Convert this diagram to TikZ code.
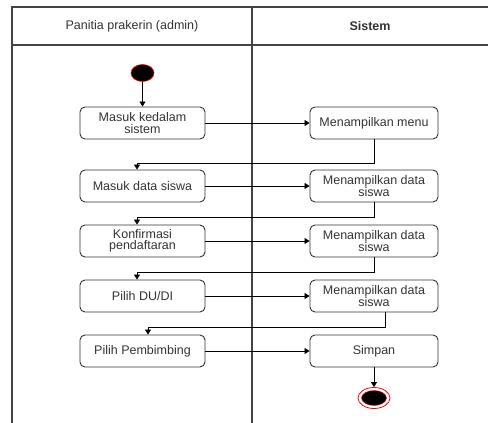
\documentclass[tikz,border=0pt]{standalone}
\usepackage{fontspec}
\setmainfont{Liberation Sans}
\usetikzlibrary{arrows.meta,positioning,shapes.geometric}
\definecolor{ink}{HTML}{333333}
\definecolor{rule}{HTML}{444444}

\begin{document}
\begin{tikzpicture}[
  x=1pt, y=-1pt, font=\fontsize{12.5}{11.5}\selectfont, text=ink,
  lane/.style ={draw=rule,line width=1.2pt},
  head/.style ={inner sep=1pt},
  act/.style  ={draw=ink,rounded corners=5pt,line width=0.9pt,align=center,
                inner sep=1pt,minimum width=125pt,minimum height=32pt},
  sys/.style  ={act,minimum width=128pt},
  flow/.style ={draw=black,line width=0.8pt,-{Triangle[length=5pt,width=6pt]}},
  init/.style ={ellipse,draw=red,fill=black,inner sep=0,line width=0.6pt,
                minimum width=23pt,minimum height=17pt},
  final/.style={ellipse,draw=red,fill=white,inner sep=0,line width=0.8pt,
                minimum width=32pt,minimum height=21pt},
  dot/.style  ={ellipse,draw=red,fill=black,inner sep=0,line width=0.4pt,
                minimum width=25pt,minimum height=15pt},
]
\useasboundingbox (0,0) rectangle (488,423);

% ------------------------------------------------------------ swimlanes
\draw[lane] (12,423) -- (12,7) -- (488,7);
\draw[lane] (12,45) -- (488,45);
\draw[lane] (252,7) -- (252,423);
\node[head] (hadmin) at (132,26) {Panitia prakerin (admin)};
\node[head,font=\fontsize{12.5}{11.5}\selectfont\bfseries] (hsys) at (370,26) {Sistem};

% ------------------------------------------------------------ activities
\node[init]  (start) at (142.5,73) {};
\node[act]   (a1) at (142.5,123) {Masuk kedalam\\sistem};
\node[sys]   (s1) at (374,123)   {Menampilkan menu};
\node[act]   (a2) at (142.5,186) {Masuk data siswa};
\node[sys]   (s2) at (374,186)   {Menampilkan data\\siswa};
\node[act]   (a3) at (142.5,241) {Konfirmasi\\pendaftaran};
\node[sys]   (s3) at (374,241)   {Menampilkan data\\siswa};
\node[act]   (a4) at (142.5,296) {Pilih DU/DI};
\node[sys]   (s4) at (374,296)   {Menampilkan data\\siswa};
\node[act]   (a5) at (142.5,351) {Pilih Pembimbing};
\node[sys]   (s5) at (374,351)   {Simpan};
\node[final] (stop) at (374,398) {};
\node[dot]   (stopdot) at (stop.center) {};

% ------------------------------------------------------------ flows
\draw[flow] (start) -- (a1);
\draw[flow] (a1) -- (s1);
\draw[flow] (s1.south) -- ++(0,24) -| ([xshift=-5.5pt]a2.north);
\draw[flow] (a2) -- (s2);
\draw[flow] (s2.south) -- ++(0,15) -| ([xshift=-5.5pt]a3.north);
\draw[flow] (a3) -- (s3);
\draw[flow] (s3.south) -- ++(0,15) -| ([xshift=-5.5pt]a4.north);
\draw[flow] (a4) -- (s4);
\draw[flow] ([xshift=11pt]s4.south) -- ++(0,15) -| ([xshift=5.5pt]a5.north);
\draw[flow] (a5) -- (s5);
\draw[flow] (s5) -- (stop);

\end{tikzpicture}
\end{document}
